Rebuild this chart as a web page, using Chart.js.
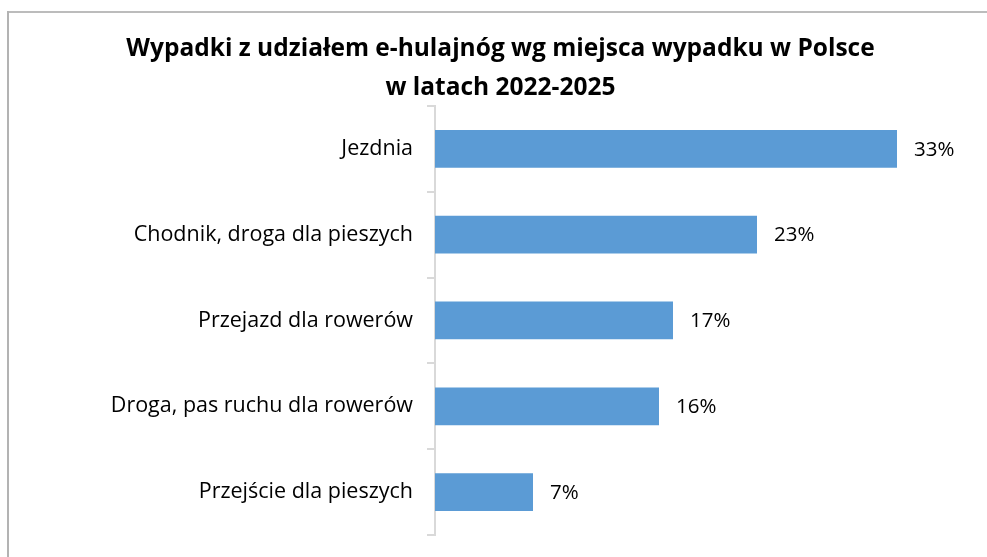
<!DOCTYPE html>
<html>
<head>
<meta charset="utf-8">
<script src="https://cdn.jsdelivr.net/npm/chart.js@4"></script>
<style>
  html, body { margin: 0; padding: 0; background: #fff; overflow: hidden; }
  #wrap { position: relative; width: 987px; height: 557px; overflow: hidden; }
  #hline { position: absolute; left: 7px; top: 11px; width: 980px; height: 2px; background: #bcbcbc; }
  #vline { position: absolute; left: 7px; top: 11px; width: 2px; height: 546px; background: #b3b3b3; }
  #c { position: absolute; left: 0; top: 0; }
</style>
</head>
<body>
<div id="wrap">
  <div id="hline"></div>
  <div id="vline"></div>
  <canvas id="c" width="987" height="557"></canvas>
</div>
<script>
const titleLines = ['Wypadki z udziałem e-hulajnóg wg miejsca wypadku w Polsce', 'w latach 2022-2025'];
const categories = ['Jezdnia', 'Chodnik, droga dla pieszych', 'Przejazd dla rowerów', 'Droga, pas ruchu dla rowerów', 'Przejście dla pieszych'];
const values = [33, 23, 17, 16, 7];
const valueLabels = ['33%', '23%', '17%', '16%', '7%'];

const FONT = "'Open Sans', 'Liberation Sans', sans-serif";
const AXIS_X = 435;

const valueLabelPlugin = {
  id: 'valueLabels',
  afterDatasetsDraw(chart) {
    const ctx = chart.ctx;
    const meta = chart.getDatasetMeta(0);
    ctx.save();
    ctx.font = '20.5px ' + FONT;
    ctx.fillStyle = '#000';
    ctx.textAlign = 'left';
    ctx.textBaseline = 'middle';
    meta.data.forEach((bar, i) => {
      ctx.fillText(valueLabels[i], bar.x + 17, bar.y + 1);
    });
    ctx.restore();
  }
};

new Chart(document.getElementById('c'), {
  type: 'bar',
  data: {
    labels: categories,
    datasets: [{
      data: values,
      backgroundColor: '#5b9bd5',
      borderWidth: 0,
      barPercentage: 0.44,
      categoryPercentage: 1
    }]
  },
  options: {
    indexAxis: 'y',
    responsive: false,
    animation: false,
    layout: { padding: { left: 20, right: 6, top: 0, bottom: 22 } },
    plugins: {
      legend: { display: false },
      tooltip: { enabled: false },
      title: {
        display: true,
        text: titleLines,
        color: '#000',
        font: { family: FONT, size: 24.5, weight: 'bold', lineHeight: 1.59 },
        padding: { top: 30, bottom: -2 }
      }
    },
    scales: {
      x: { display: false, min: 0, max: 39 },
      y: {
        afterFit(scale) {
          scale.width = AXIS_X - 20;
          scale.paddingTop = 0;
          scale.paddingBottom = 0;
        },
        grid: { offset: true, drawOnChartArea: false, drawTicks: true, tickLength: 8, color: '#d9d9d9', lineWidth: 2 },
        border: { display: true, color: '#d9d9d9', width: 2 },
        ticks: { color: '#000', padding: 14, font: { family: FONT, size: 21.5 } }
      }
    }
  },
  plugins: [valueLabelPlugin]
});
</script>
</body>
</html>
